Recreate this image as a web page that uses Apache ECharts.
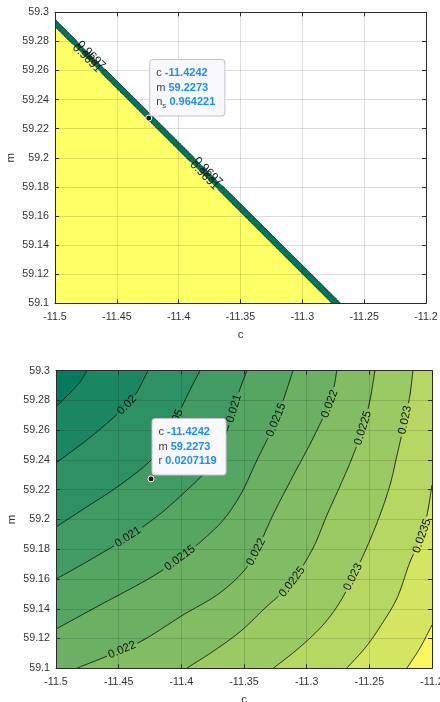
<!DOCTYPE html>
<html>
<head>
<meta charset="utf-8">
<script src="https://cdn.jsdelivr.net/npm/echarts@6/dist/echarts.min.js"></script>
<style>
  html, body { margin: 0; padding: 0; background: #fff; }
  #chart { width: 440px; height: 702px; }
</style>
</head>
<body>
<div id="chart"></div>
<script>
const FONT = '"Liberation Sans", Arial, Helvetica, sans-serif';

// shared axis limits and tick steps (both panels)
const cLimits = [-11.5, -11.2];
const mLimits = [59.1, 59.3];
const cStep = 0.05;
const mStep = 0.02;

// upper panel: n_s contour lines, each [c, m] from edge to edge
const nsLevels = ['0.9697', '0.9691'];
const nsLineA = [[-11.5, 59.2952], [-11.2690, 59.1]];
const nsLineB = [[-11.5, 59.2902], [-11.2760, 59.1]];
// label anchors: [line index, c, m]
const nsLabelAt = [
  [0, -11.4709, 59.2707], [1, -11.4741, 59.2682],
  [0, -11.3763, 59.1909], [1, -11.3795, 59.1882]
];

// lower panel: r contour lines
const rLevels = ['0.0195', '0.02', '0.0205', '0.021', '0.0215', '0.022', '0.0225', '0.023', '0.0235', '0.024'];
const r0195 = [[-11.5, 59.2758], [-11.4888, 59.2850], [-11.4809, 59.2924], [-11.4753, 59.3]];
const r0200 = [[-11.5, 59.2380], [-11.4785, 59.2514], [-11.4609, 59.2635], [-11.4434, 59.2769], [-11.4354, 59.2857], [-11.4266, 59.3]];
const r0205 = [[-11.5, 59.1950], [-11.4769, 59.2077], [-11.4513, 59.2218], [-11.4266, 59.2380], [-11.4130, 59.2521], [-11.4027, 59.2702], [-11.3931, 59.2870], [-11.3851, 59.3]];
const r0210 = [[-11.5, 59.1600], [-11.4729, 59.1728], [-11.4426, 59.1882], [-11.4170, 59.2037], [-11.3955, 59.2198], [-11.3811, 59.2319], [-11.3707, 59.2454], [-11.3627, 59.2615], [-11.3572, 59.2769], [-11.3524, 59.2897], [-11.3476, 59.3]];
const r0215 = [[-11.5, 59.1264], [-11.4649, 59.1425], [-11.4250, 59.1607], [-11.4011, 59.1741], [-11.3811, 59.1876], [-11.3652, 59.2010], [-11.3516, 59.2185], [-11.3404, 59.2386], [-11.3309, 59.2548], [-11.3237, 59.2682], [-11.3173, 59.2837], [-11.3109, 59.3]];
const r0220 = [[-11.4835, 59.1], [-11.4473, 59.1123], [-11.4274, 59.1204], [-11.3987, 59.1358], [-11.3715, 59.1493], [-11.3516, 59.1640], [-11.3404, 59.1782], [-11.3269, 59.2030], [-11.3117, 59.2279], [-11.2973, 59.2507], [-11.2878, 59.2669], [-11.2814, 59.2783], [-11.2782, 59.2890], [-11.2760, 59.3]];
const r0225 = [[-11.3957, 59.1], [-11.3731, 59.1123], [-11.3524, 59.1251], [-11.3332, 59.1405], [-11.3189, 59.1513], [-11.3093, 59.1607], [-11.2949, 59.1808], [-11.2838, 59.2030], [-11.2734, 59.2225], [-11.2638, 59.2413], [-11.2551, 59.2615], [-11.2495, 59.2803], [-11.2455, 59.3]];
const r0230 = [[-11.3266, 59.1], [-11.3053, 59.1143], [-11.2870, 59.1291], [-11.2734, 59.1446], [-11.2630, 59.1614], [-11.2519, 59.1815], [-11.2415, 59.2030], [-11.2335, 59.2232], [-11.2279, 59.2433], [-11.2215, 59.2669], [-11.2176, 59.2837], [-11.2152, 59.3]];
const r0235 = [[-11.2681, 59.1], [-11.2535, 59.1136], [-11.2415, 59.1278], [-11.2279, 59.1472], [-11.2176, 59.1714], [-11.2080, 59.1889], [-11.2032, 59.2064], [-11.2, 59.2232]];
const r0240 = [[-11.2202, 59.1], [-11.2096, 59.1136], [-11.2, 59.1291]];
const rLines = [r0195, r0200, r0205, r0210, r0215, r0220, r0225, r0230, r0235, r0240];
// label anchors: [line index, c, m]
const rLabelAt = [
  [1, -11.4434, 59.2769],
  [2, -11.4090, 59.2635],
  [3, -11.3588, 59.2749], [3, -11.4426, 59.1882],
  [4, -11.3237, 59.2669], [4, -11.4011, 59.1741],
  [5, -11.2814, 59.2776], [5, -11.3404, 59.1782], [5, -11.4473, 59.1123],
  [6, -11.2551, 59.2615], [6, -11.3117, 59.1580],
  [7, -11.2215, 59.2669], [7, -11.2638, 59.1614],
  [8, -11.2080, 59.1889]
];

// data tips
const tipTop = { c: '-11.4242', m: '59.2273', ns: '0.964221' };
const tipBottom = { c: '-11.4242', m: '59.2273', r: '0.0207119' };

// fill colours (summer-like ramp)
const nsFill = ['#00765e', '#ffff66'];
const rFill = ['#047b5f', '#1a8662', '#2e9163', '#419b63', '#56a663', '#6bb063',
               '#82bc63', '#9bc963', '#b6d762', '#d4e661', '#f8f85e'];

const LABEL_FONT = '11.5px ' + FONT;
const measureCtx = document.createElement('canvas').getContext('2d');
function textWidth(t, font) { measureCtx.font = font; return measureCtx.measureText(t).width; }

const eps = 1e-9;
// box corners that close the region on the lower-right side of a contour line
function lowerRightCorners(line) {
  const pts = [];
  const first = line[0], last = line[line.length - 1];
  if (Math.abs(last[1] - mLimits[1]) < eps) pts.push([cLimits[1], mLimits[1]]);
  pts.push([cLimits[1], mLimits[0]]);
  if (Math.abs(first[0] - cLimits[0]) < eps) pts.push([cLimits[0], mLimits[0]]);
  return pts;
}
// corner that closes the region on the lower-left side of a left-to-bottom line
function lowerLeftCorners() { return [[cLimits[0], mLimits[0]]]; }
const boxCorners = [[cLimits[0], mLimits[0]], [cLimits[0], mLimits[1]], [cLimits[1], mLimits[1]], [cLimits[1], mLimits[0]]];

// smooth pixel path through the given pixel points (Catmull-Rom, ~1px steps)
function smoothPath(px) {
  if (px.length < 2) return px.slice();
  const out = [];
  const n = px.length;
  for (let i = 0; i < n - 1; i++) {
    const p1 = px[i], p2 = px[i + 1];
    const p0 = i > 0 ? px[i - 1] : [2 * p1[0] - p2[0], 2 * p1[1] - p2[1]];
    const p3 = i < n - 2 ? px[i + 2] : [2 * p2[0] - p1[0], 2 * p2[1] - p1[1]];
    const steps = Math.max(1, Math.ceil(Math.hypot(p2[0] - p1[0], p2[1] - p1[1])));
    for (let k = 0; k < steps; k++) {
      const t = k / steps, t2 = t * t, t3 = t2 * t;
      const f = j => 0.5 * (2 * p1[j] + (-p0[j] + p2[j]) * t
        + (2 * p0[j] - 5 * p1[j] + 4 * p2[j] - p3[j]) * t2
        + (-p0[j] + 3 * p1[j] - 3 * p2[j] + p3[j]) * t3);
      out.push([f(0), f(1)]);
    }
  }
  out.push(px[n - 1]);
  return out;
}

// contour lines with inline level labels (line broken under each label)
function contourGroup(api, lines, levels, labelAt) {
  const children = [];
  const pix = lines.map(l => smoothPath(l.map(p => api.coord(p))));
  const cuts = pix.map(() => []);
  labelAt.forEach(([li, c, m]) => {
    const p = api.coord([c, m]);
    const pts = pix[li];
    let best = 0, bd = Infinity;
    pts.forEach((q, i) => {
      const d = Math.hypot(q[0] - p[0], q[1] - p[1]);
      if (d < bd) { bd = d; best = i; }
    });
    const a = pts[Math.max(0, best - 7)], b = pts[Math.min(pts.length - 1, best + 7)];
    let ang = Math.atan2(-(b[1] - a[1]), b[0] - a[0]);
    if (ang > Math.PI / 2) ang -= Math.PI;
    if (ang <= -Math.PI / 2) ang += Math.PI;
    const text = levels[li];
    const half = textWidth(text, LABEL_FONT) / 2 + 2;
    cuts[li].push([pts[best], half]);
    children.push({
      type: 'text', x: pts[best][0], y: pts[best][1], rotation: ang, z2: 5,
      style: { text: text, font: LABEL_FONT, fill: '#141414', align: 'center', verticalAlign: 'middle' }
    });
  });
  pix.forEach((pts, li) => {
    let run = [];
    const flush = () => {
      if (run.length > 1) children.push({ type: 'polyline', z2: 3, shape: { points: run }, style: { stroke: '#111111', lineWidth: 0.9, fill: null } });
      run = [];
    };
    pts.forEach(q => {
      const hidden = cuts[li].some(([c, h]) => Math.hypot(q[0] - c[0], q[1] - c[1]) < h);
      if (hidden) flush(); else run.push(q);
    });
    flush();
  });
  return { type: 'group', children };
}

// filled bands: each region is a contour line closed along the plot box
function fillGroup(api, regions, colors) {
  return {
    type: 'group',
    children: regions.map((reg, i) => ({
      type: 'polygon', z2: i,
      shape: { points: smoothPath(reg.line.map(p => api.coord(p))).concat(reg.corners.map(p => api.coord(p))) },
      style: { fill: colors[i], stroke: null }
    }))
  };
}

const axisColor = '#2b2b2b';
function xAxes(gi) {
  const base = { gridIndex: gi, type: 'value', min: cLimits[0], max: cLimits[1], interval: cStep, z: 3,
    axisLine: { show: true, onZero: false, lineStyle: { color: axisColor, width: 1 } },
    axisTick: { show: true, inside: true, length: 4, lineStyle: { color: axisColor } } };
  return [
    Object.assign({}, base, { position: 'bottom', name: 'c', nameLocation: 'middle', nameGap: 25.5,
      nameMoveOverlap: false,
      nameTextStyle: { color: '#333', fontSize: 11.5, fontFamily: FONT },
      axisLabel: { color: '#333', fontSize: 10.7, fontFamily: FONT, margin: 8 },
      splitLine: { show: true, lineStyle: { color: 'rgba(0,0,0,0.13)', width: 1 } } }),
    Object.assign({}, base, { position: 'top', axisLabel: { show: false }, splitLine: { show: false } })
  ];
}
function yAxes(gi) {
  const base = { gridIndex: gi, type: 'value', min: mLimits[0], max: mLimits[1], interval: mStep, z: 3,
    axisLine: { show: true, onZero: false, lineStyle: { color: axisColor, width: 1 } },
    axisTick: { show: true, inside: true, length: 4, lineStyle: { color: axisColor } } };
  return [
    Object.assign({}, base, { position: 'left', name: 'm', nameLocation: 'middle', nameGap: 38,
      nameMoveOverlap: false,
      nameTextStyle: { color: '#333', fontSize: 11.5, fontFamily: FONT },
      axisLabel: { color: '#333', fontSize: 10.7, fontFamily: FONT, margin: 6 },
      splitLine: { show: true, lineStyle: { color: 'rgba(0,0,0,0.13)', width: 1 } } }),
    Object.assign({}, base, { position: 'right', axisLabel: { show: false }, splitLine: { show: false } })
  ];
}

function dataTip(xi, yi, point, text, labelPos) {
  return {
    type: 'scatter', xAxisIndex: xi, yAxisIndex: yi, z: 10, silent: true,
    data: [point], symbol: 'circle', symbolSize: 6,
    itemStyle: { color: '#1c1c1c', borderColor: '#ffffff', borderWidth: 1, opacity: 1 },
    label: {
      show: true, position: labelPos, align: 'left', verticalAlign: 'bottom',
      formatter: text,
      fontFamily: FONT, fontSize: 11, color: '#404040', lineHeight: 14.5,
      backgroundColor: '#f8f8fe', borderColor: '#c4c4cc', borderWidth: 1, borderRadius: 3,
      padding: [6, 9, 6, 6],
      rich: {
        k: { fontFamily: FONT, fontSize: 11, color: '#404040', lineHeight: 14.5 },
        v: { fontFamily: FONT, fontSize: 11, color: '#1a8cff', fontWeight: 'bold', lineHeight: 14.5 },
        s: { fontFamily: FONT, fontSize: 8, color: '#404040', lineHeight: 14.5, verticalAlign: 'bottom' }
      }
    }
  };
}

const chart = echarts.init(document.getElementById('chart'), null, { renderer: 'canvas' });
chart.setOption({
  animation: false,
  backgroundColor: '#ffffff',
  grid: [
    { left: 55, top: 12.3, width: 371, height: 291, show: false, containLabel: false, outerBoundsMode: 'none' },
    { left: 56, top: 370.7, width: 376, height: 297.6, show: false, containLabel: false, outerBoundsMode: 'none' }
  ],
  xAxis: xAxes(0).concat(xAxes(1)),
  yAxis: yAxes(0).concat(yAxes(1)),
  series: [
    {
      type: 'custom', xAxisIndex: 0, yAxisIndex: 0, z: 1, silent: true, clip: true,
      data: [[cLimits[0], mLimits[0]]],
      renderItem: (params, api) => fillGroup(api, [
        { line: nsLineA, corners: lowerLeftCorners() },
        { line: nsLineB, corners: lowerLeftCorners() }
      ], nsFill)
    },
    {
      type: 'custom', xAxisIndex: 0, yAxisIndex: 0, z: 2, silent: true, clip: true,
      data: [[cLimits[0], mLimits[0]]],
      renderItem: (params, api) => contourGroup(api, [nsLineA, nsLineB], nsLevels, nsLabelAt)
    },
    {
      type: 'custom', xAxisIndex: 2, yAxisIndex: 2, z: 1, silent: true, clip: true,
      data: [[cLimits[0], mLimits[0]]],
      renderItem: (params, api) => fillGroup(api,
        [{ line: [], corners: boxCorners }].concat(rLines.map(l => ({ line: l, corners: lowerRightCorners(l) }))),
        rFill)
    },
    {
      type: 'custom', xAxisIndex: 2, yAxisIndex: 2, z: 2, silent: true, clip: true,
      data: [[cLimits[0], mLimits[0]]],
      renderItem: (params, api) => contourGroup(api, rLines, rLevels, rLabelAt)
    },
    dataTip(0, 0, [Number(tipTop.c), Number(tipTop.m)],
      '{k|c} {v|' + tipTop.c + '}\n{k|m} {v|' + tipTop.m + '}\n{k|n}{s|s} {v|' + tipTop.ns + '}', [5, 1]),
    dataTip(2, 2, [Number(tipBottom.c), Number(tipBottom.m)],
      '{k|c} {v|' + tipBottom.c + '}\n{k|m} {v|' + tipBottom.m + '}\n{k|r} {v|' + tipBottom.r + '}', [5, -1])
  ]
});
</script>
</body>
</html>
